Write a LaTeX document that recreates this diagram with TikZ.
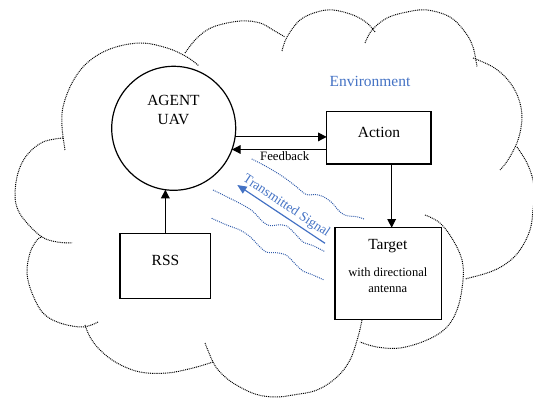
\documentclass[tikz,border=0pt]{standalone}
\usepackage{fontspec}
\setmainfont{Liberation Serif}
\usetikzlibrary{arrows.meta,calc}
\definecolor{sigblue}{HTML}{4472C4}
\definecolor{waveblue}{HTML}{2F5BAA}

\begin{document}
\begin{tikzpicture}[x=0.75pt,y=-0.75pt,
  every node/.style={inner sep=0pt, outer sep=0pt},
  block/.style={draw, line width=0.9pt, rectangle},
  agentshape/.style={draw, line width=0.9pt, circle, minimum size=93pt},
  lbl/.style={font=\fontsize{11.6}{14.25}\selectfont, align=center, anchor=base},
  smalltxt/.style={font=\fontsize{9.4}{12}\selectfont, align=center, anchor=base},
  flow/.style={line width=0.8pt, -{Triangle[length=6.5pt,width=6.5pt]}},
  puff/.style={line width=0.75pt, dash pattern=on 0.7pt off 0.7pt},
  wave/.style={waveblue, line width=0.75pt, dash pattern=on 0.7pt off 0.8pt},
]
\useasboundingbox (0,0) rectangle (533,398);

% ---- dotted cloud outline, one arc per puff ----
\draw[puff] plot[smooth, tension=0.6] coordinates {(63,138) (43,142) (27,155) (18,173) (15,195) (18,210) (27,223) (42,237) (57,242) (72,243)};
\draw[puff] plot[smooth, tension=0.6] coordinates {(65,150) (62,127) (63,107) (72,83) (87,63) (110,49) (140,43) (167,48) (187,57) (199,66)};
\draw[puff] plot[smooth, tension=0.6] coordinates {(185,53) (197,38) (213,27) (240,21) (260,23) (273,30) (285,37)};
\draw[puff] plot[smooth, tension=0.6] coordinates {(282,51) (287,37) (300,20) (317,12) (333,10) (353,15) (367,23) (375,32)};
\draw[puff] plot[smooth, tension=0.6] coordinates {(365,43) (372,30) (387,18) (407,12) (427,10) (450,17) (465,32) (473,47) (477,67)};
\draw[puff] plot[smooth, tension=0.6] coordinates {(473,58) (493,67) (508,80) (518,97) (522,117) (518,140) (508,160) (500,170)};
\draw[puff] plot[smooth, tension=0.6] coordinates {(517,147) (527,163) (533,180) (534,195) (533,210) (530,230) (520,250) (507,263) (490,272) (465,279)};
\draw[puff] plot[smooth, tension=0.6] coordinates {(425,215) (440,223) (453,240) (462,260) (463,280) (458,307) (447,327) (427,340) (400,348) (377,347) (360,342)};
\draw[puff] plot[smooth, tension=0.6] coordinates {(362,320) (358,337) (350,360) (337,377) (317,390) (293,395) (275,397) (255,394) (233,383) (220,372) (213,362) (205,343)};
\draw[puff] plot[smooth, tension=0.6] coordinates {(213,362) (193,368) (167,373) (140,372) (117,363) (100,350) (90,337) (85,325)};
\draw[puff] plot[smooth, tension=0.6] coordinates {(98,322) (83,327) (60,323) (43,313) (32,293) (27,273) (30,253) (37,240) (42,237)};

% ---- blocks ----
% (for two-line labels the base anchor sits on the last line)
\node[agentshape] (agent) at (173.7,128.3) {};
\node[lbl] (agenttxt) at (173.5,124.1) {AGENT\\UAV};

\node[block, minimum width=78.2pt, minimum height=39.2pt] (action) at (378.85,137.85) {};
\node[lbl] (actiontxt) at (379,137.4) {Action};

\node[block, minimum width=68pt, minimum height=48.8pt] (rss) at (165.35,265.8) {};
\node[lbl] (rsstxt) at (165.5,266) {RSS};

\node[block, minimum width=80pt, minimum height=68.7pt] (target) at (388.35,273.5) {};
\node[lbl] (targettxt) at (387.8,249.3) {Target};
\node[smalltxt] (antennatxt) at (387.8,292.7) {with directional\\antenna};

\node[lbl, text=sigblue] (envtxt) at (370,87) {Environment};

% ---- connectors ----
\draw[flow] (agent.-8.3) -- (agent.-8.3 -| action.west);
\draw[flow] (action.west |- agent.-20.5) -- (agent.-20.5);
\node[font=\fontsize{9.6}{11.5}\selectfont, anchor=base] (fbtxt) at (284.7,161) {Feedback};

\coordinate (down) at ([xshift=9.6pt]action.south);
\draw[flow] (down) -- (down |- target.north);

\draw[flow] (rss.north) -- (rss.north |- agent.-98);

% ---- radio signal ----
\draw[wave] plot[smooth, tension=0.5] coordinates {(251.7,159) (266.7,166.7) (283,176.7) (296.7,187) (303,192.5) (308,195) (315,194.5) (323,196.5) (331.7,202.5) (340,212) (346.7,215.7) (356.7,216.7) (364,219)};
\draw[wave] plot[smooth, tension=0.5] coordinates {(213,190) (226.7,196.7) (243,205) (253,211.5) (263,222) (270,225.7) (278,225) (286.7,226) (296.7,235.5) (303,242) (313,245.7) (325,251.7)};
\draw[wave] plot[smooth, tension=0.5] coordinates {(211.7,218.3) (226.7,225) (240,230) (250,236.7) (260,247) (266.7,252.3) (276.7,252.7) (286.7,255.5) (296.7,265.5) (303,271) (313,275) (324,280)};

\coordinate (sigtip) at (237.3,185);
\coordinate (sigtail) at (325,243.3);
\draw[sigblue, line width=0.9pt, {Triangle[length=7pt,width=6pt]}-] (sigtip) -- node[sloped, above=2.5pt, font=\fontsize{10}{12}\selectfont, text=sigblue] (sigtxt) {Transmitted Signal} (sigtail);
\end{tikzpicture}
\end{document}
